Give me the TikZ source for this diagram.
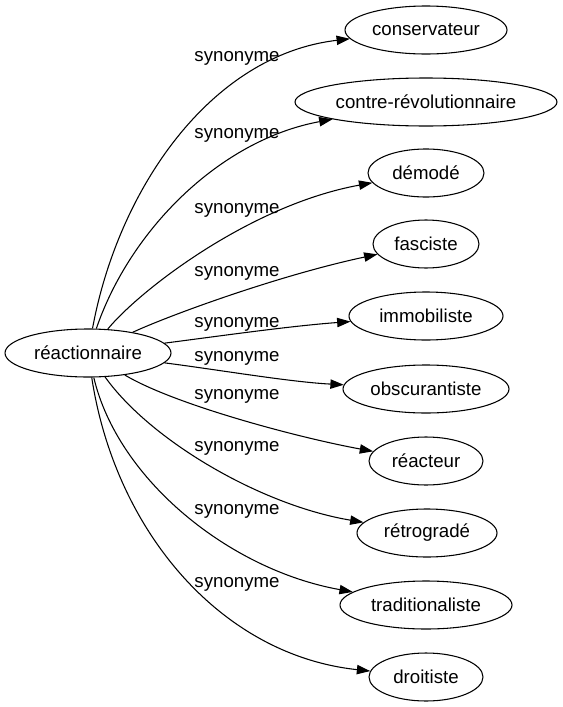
\documentclass[tikz,border=0pt]{standalone}
\usepackage{fontspec}
\setmainfont{Liberation Sans}
\usetikzlibrary{shapes.geometric,arrows.meta}
\begin{document}
\begin{tikzpicture}[x=0.75pt,y=-0.75pt,
  every node/.style={font=\fontsize{14pt}{16pt}\selectfont},
  ell/.style={ellipse,draw,line width=0.8pt,minimum height=36pt,minimum width=#1,inner sep=0pt},
  lbl/.style={inner sep=0pt},
  syn/.style={draw,line width=0.8pt,-{Triangle[length=10pt,width=7pt]}}]
\useasboundingbox (0,0) rectangle (562,707);
\node[ell=124.5pt] (src) at (88,353) {réactionnaire};
\node[ell=121.5pt] (t1) at (426,30) {conservateur};
\node[ell=196.5pt] (t2) at (426,102) {contre-révolutionnaire};
\node[ell=87pt] (t3) at (426,173) {démodé};
\node[ell=79.5pt] (t4) at (426,244) {fasciste};
\node[ell=115.5pt] (t5) at (426,316) {immobiliste};
\node[ell=124.5pt] (t6) at (426,389) {obscurantiste};
\node[ell=85.5pt] (t7) at (426,461) {réacteur};
\node[ell=105pt] (t8) at (427,533) {rétrogradé};
\node[ell=129pt] (t9) at (426,605) {traditionaliste};
\node[ell=85.5pt] (t10) at (426,677) {droitiste};
\node[lbl] (l1) at (237,58) {synonyme};
\node[lbl] (l2) at (237,135) {synonyme};
\node[lbl] (l3) at (237,210) {synonyme};
\node[lbl] (l4) at (237,273) {synonyme};
\node[lbl] (l5) at (237,324) {synonyme};
\node[lbl] (l6) at (237,358) {synonyme};
\node[lbl] (l7) at (237,396) {synonyme};
\node[lbl] (l8) at (237,448) {synonyme};
\node[lbl] (l9) at (237,511) {synonyme};
\node[lbl] (l10) at (237,584) {synonyme};
\draw[syn] (src) .. controls (118,190) and (210,55) .. (t1);
\draw[syn] (src) .. controls (130,230) and (220,140) .. (t2);
\draw[syn] (src) .. controls (140,290) and (250,205) .. (t3);
\draw[syn] (src) .. controls (170,315) and (280,275) .. (t4);
\draw[syn] (src) .. controls (220,336) and (290,326) .. (t5);
\draw[syn] (src) .. controls (220,370) and (290,382) .. (t6);
\draw[syn] (src) .. controls (175,405) and (300,438) .. (t7);
\draw[syn] (src) .. controls (150,440) and (260,505) .. (t8);
\draw[syn] (src) .. controls (118,480) and (230,570) .. (t9);
\draw[syn] (src) .. controls (115,530) and (220,655) .. (t10);
\end{tikzpicture}
\end{document}
